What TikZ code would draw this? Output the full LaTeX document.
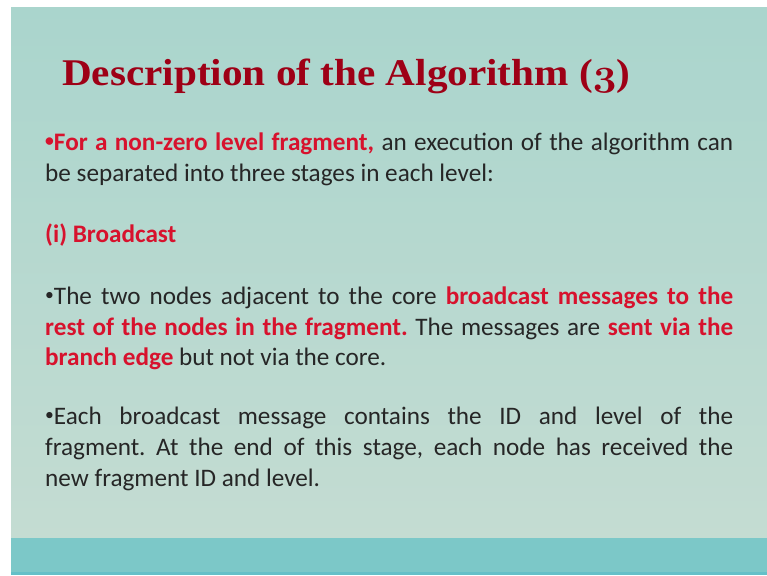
\documentclass[tikz,border=0pt]{standalone}
\usepackage{fontspec}
\usepackage{graphicx}
\setmainfont{Carlito}
\newfontfamily\titlefont{Liberation Serif}
\definecolor{slidetop}{RGB}{170,213,205}
\definecolor{slidemid}{RGB}{206,225,212}
\definecolor{slidebot}{RGB}{196,220,210}
\definecolor{bandteal}{RGB}{124,200,200}
\definecolor{bandedge}{RGB}{100,192,200}
\definecolor{titlered}{RGB}{158,0,22}
\definecolor{hired}{RGB}{215,18,45}
\definecolor{ink}{RGB}{38,38,38}
\newcommand{\hl}[1]{\textcolor{hired}{\bfseries #1}}
\newcommand{\fullline}[1]{\makebox[688pt][s]{#1}}
\newcommand{\bul}{\raisebox{0.13em}{\scalebox{0.7}{•}}}
% old-style figure three taken from the bold math italic font
\newcommand{\osthree}{\scalebox{3.77}{\fontsize{10}{12}\usefont{OML}{cmm}{b}{it}3}}
\begin{document}
\begin{tikzpicture}[x=1pt,y=-1pt,
  bodyline/.style={anchor=base west, inner sep=0pt, text=ink,
    font=\fontsize{25.2}{31}\selectfont\frenchspacing}]
\useasboundingbox (0,0) rectangle (767,575);
% page margin and slide background
\fill[white] (0,0) rectangle (767,575);
\shade[top color=slidetop, middle color=slidemid, bottom color=slidebot]
  (11,8) rectangle (767,538);
\fill[bandteal] (11,538) rectangle (767,575);
\fill[bandedge] (11,572) rectangle (767,575);

% title
\node[anchor=base west, inner sep=0pt, text=titlered] (title) at (62,86)
  {\resizebox{568pt}{\height}{\titlefont\bfseries\fontsize{37.7}{40}\selectfont
   Description of the Algorithm (\osthree)}};

% first paragraph
\node[bodyline] (p1a) at (45,150)
  {\fullline{\hl{\bul For a non-zero level fragment,} an execution of the algorithm can}};
\node[bodyline] (p1b) at (45,181) {be separated into three stages in each level:};

% stage heading
\node[bodyline] (stage) at (45,242) {\hl{(i) Broadcast}};

% second paragraph
\node[bodyline] (p2a) at (45,304)
  {\fullline{\bul The two nodes adjacent to the core \hl{broadcast messages to the}}};
\node[bodyline] (p2b) at (45,335)
  {\fullline{\hl{rest of the nodes in the fragment.} The messages are \hl{sent via the}}};
\node[bodyline] (p2c) at (45,365) {\hl{branch edge} but not via the core.};

% third paragraph
\node[bodyline] (p3a) at (45,424)
  {\fullline{\bul Each broadcast message contains the ID and level of the}};
\node[bodyline] (p3b) at (45,455)
  {\fullline{fragment. At the end of this stage, each node has received the}};
\node[bodyline] (p3c) at (45,486) {new fragment ID and level.};
\end{tikzpicture}
\end{document}
